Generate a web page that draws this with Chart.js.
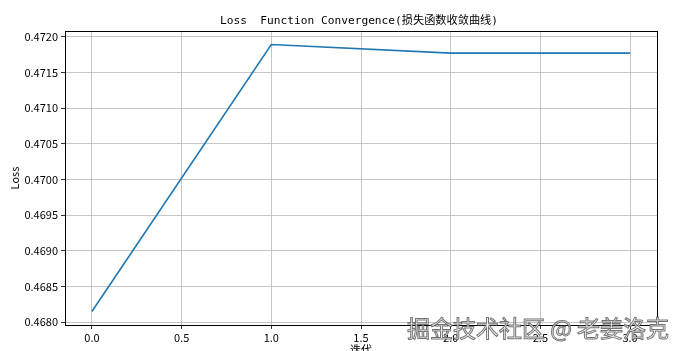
<!DOCTYPE html>
<html>
<head>
<meta charset="utf-8">
<script src="https://cdn.jsdelivr.net/npm/chart.js@4.4.1/dist/chart.umd.min.js"></script>
<style>
  body { margin: 0; background: #fff; }
  .wrap { position: relative; width: 686px; height: 351px; overflow: hidden; }
  .mark {
    position: absolute; left: 407px; top: 310px;
    font: 23px 'Noto Sans CJK SC', sans-serif;
    color: rgba(255,255,255,0.9);
    -webkit-text-stroke: 1px rgba(90,90,90,0.85);
    white-space: nowrap;
  }
</style>
</head>
<body>
<div class="wrap">
  <canvas id="lossChart" width="686" height="351"></canvas>
  <div class="mark">掘金技术社区 @ 老姜洛克</div>
</div>
<script>
const epochs = [0, 1, 2, 3];
const lossValues = [0.46815, 0.47189, 0.47177, 0.47177];
const xTicks = [0, 0.5, 1, 1.5, 2, 2.5, 3];
const yTicks = [0.468, 0.4685, 0.469, 0.4695, 0.47, 0.4705, 0.471, 0.4715, 0.472];
const chartTitle = 'Loss  Function Convergence(损失函数收敛曲线)';
const xLabel = '迭代';
const yLabel = 'Loss';

const tickFont = { family: "'Noto Sans CJK SC', sans-serif", size: 11 };

const textPlugin = {
  id: 'mplText',
  afterDraw(chart) {
    const { ctx, chartArea: a } = chart;
    ctx.save();
    ctx.strokeStyle = '#000';
    ctx.lineWidth = 1;
    ctx.strokeRect(Math.round(a.left) + 0.5, Math.round(a.top) + 0.5,
      Math.round(a.right - a.left), Math.round(a.bottom - a.top));
    ctx.fillStyle = '#000';
    ctx.textAlign = 'center';
    ctx.textBaseline = 'middle';
    ctx.font = "11.2px 'DejaVu Sans Mono', 'Noto Sans CJK SC', monospace";
    ctx.fillText(chartTitle, (a.left + a.right) / 2 - 2, 21);
    ctx.font = "11px 'Noto Sans CJK SC', sans-serif";
    ctx.fillText(xLabel, (a.left + a.right) / 2, 350);
    ctx.translate(15, (a.top + a.bottom) / 2);
    ctx.rotate(-Math.PI / 2);
    ctx.fillText(yLabel, 0, 0);
    ctx.restore();
  }
};

const ctx = document.getElementById('lossChart').getContext('2d');
const lossChart = new Chart(ctx, {
  type: 'line',
  data: {
    datasets: [{
      data: epochs.map((e, i) => ({ x: e, y: lossValues[i] })),
      borderColor: '#1f77b4',
      borderWidth: 1.6,
      pointRadius: 0,
      tension: 0,
      fill: false
    }]
  },
  options: {
    responsive: false,
    animation: false,
    layout: { padding: { top: 31, right: 29, left: 0, bottom: 0 } },
    plugins: { legend: { display: false }, tooltip: { enabled: false } },
    scales: {
      x: {
        type: 'linear',
        min: -0.15,
        max: 3.15,
        afterBuildTicks: s => { s.ticks = xTicks.map(v => ({ value: v })); },
        afterFit: s => { s.height = 26; },
        border: { display: false },
        grid: { color: '#b8b8b8', lineWidth: 0.8, tickLength: 4, tickColor: '#000' },
        ticks: {
          color: '#000', font: tickFont, padding: 2, maxRotation: 0,
          callback: v => v.toFixed(1)
        }
      },
      y: {
        min: 0.46796,
        max: 0.47208,
        afterBuildTicks: s => { s.ticks = yTicks.map(v => ({ value: v })); },
        afterFit: s => { s.width = 65; },
        border: { display: false },
        grid: { color: '#b8b8b8', lineWidth: 0.8, tickLength: 4, tickColor: '#000' },
        ticks: {
          color: '#000', font: tickFont, padding: 3,
          callback: v => v.toFixed(4)
        }
      }
    }
  },
  plugins: [textPlugin]
});
</script>
</body>
</html>
